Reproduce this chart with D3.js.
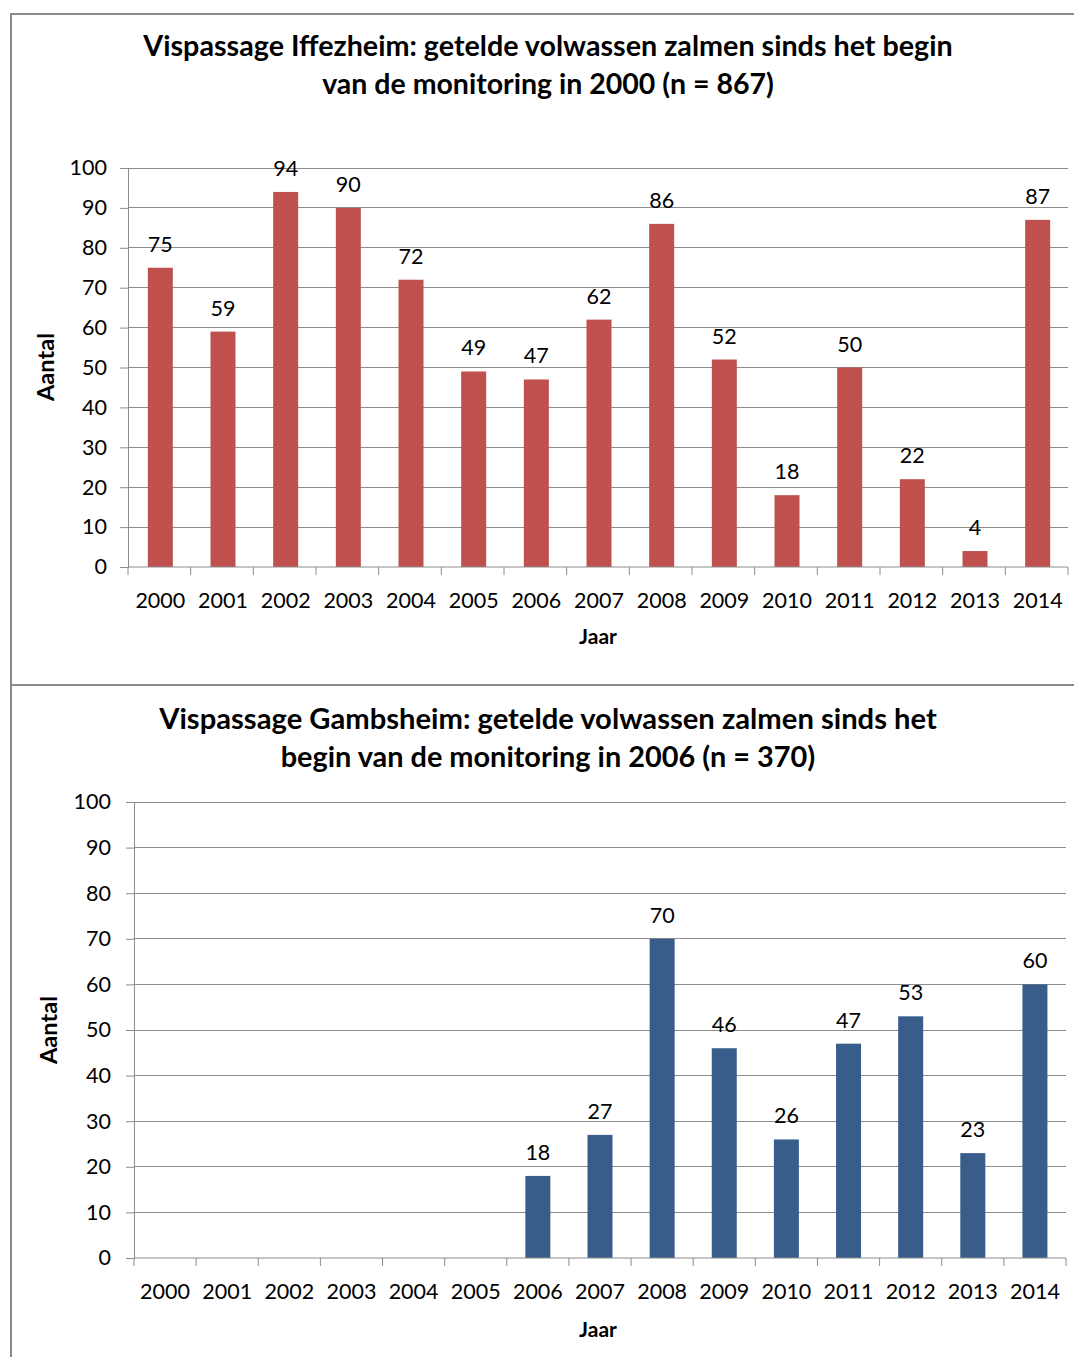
<!DOCTYPE html>
<html><head><meta charset="utf-8">
<script src="https://cdn.jsdelivr.net/npm/d3@7"></script>
<style>body{margin:0;background:#fff}svg{display:block}text{font-family:Lato,"Open Sans",sans-serif;fill:#000}</style>
</head><body>
<svg id="c" width="1074" height="1357"></svg>
<script>
const years = ["2000","2001","2002","2003","2004","2005","2006","2007","2008","2009","2010","2011","2012","2013","2014"];
const iffezheim = [75,59,94,90,72,49,47,62,86,52,18,50,22,4,87];
const gambsheim = [null,null,null,null,null,null,18,27,70,46,26,47,53,23,60];
const yTicks = [0,10,20,30,40,50,60,70,80,90,100];
const title1 = ["Vispassage Iffezheim: getelde volwassen zalmen sinds het begin","van de monitoring in 2000 (n = 867)"];
const title2 = ["Vispassage Gambsheim: getelde volwassen zalmen sinds het","begin van de monitoring in 2006 (n = 370)"];

const svg = d3.select("#c");
svg.append("line").attr("x1",11).attr("x2",1074).attr("y1",14).attr("y2",14).attr("stroke","#8a8a8a").attr("stroke-width",2);
svg.append("line").attr("x1",11).attr("x2",11).attr("y1",13).attr("y2",1357).attr("stroke","#8a8a8a").attr("stroke-width",2);
svg.append("line").attr("x1",11).attr("x2",1074).attr("y1",685).attr("y2",685).attr("stroke","#8a8a8a").attr("stroke-width",2);

function fitText(sel, target){
  const w = sel.node().getComputedTextLength();
  const fs = parseFloat(sel.attr("font-size"));
  sel.attr("font-size", fs*target/w);
}
const FS = 21.5;

function chart(o){
  const g = svg.append("g");
  const x = d3.scaleBand().domain(years).range([o.x0,o.x1]).paddingInner(0.6).paddingOuter(0.3);
  const y = d3.scaleLinear().domain([0,100]).range([o.y0,o.y1]);
  g.append("g").selectAll("line").data(yTicks.filter(d=>d>0)).join("line")
    .attr("x1",o.x0).attr("x2",o.x1).attr("y1",d=>y(d)).attr("y2",d=>y(d))
    .attr("stroke","#8c8c8c").attr("stroke-width",1).attr("shape-rendering","crispEdges");
  const ya = g.append("g").attr("transform",`translate(${o.x0},0)`)
    .call(d3.axisLeft(y).tickValues(yTicks).tickSize(8).tickPadding(o.ypad));
  ya.select(".domain").attr("stroke","#8c8c8c");
  ya.selectAll(".tick line").attr("stroke","#8c8c8c");
  ya.selectAll("text").attr("font-size",FS).attr("font-family","Lato,sans-serif").attr("fill","#000");
  const data = years.map((yr,i)=>({yr, v:o.values[i]})).filter(d=>d.v!=null);
  g.append("g").selectAll("rect").data(data).join("rect")
    .attr("x",d=>x(d.yr)+x.bandwidth()/2-12.5+o.bdx).attr("width",25)
    .attr("y",d=>y(d.v)).attr("height",d=>y(0)-y(d.v)).attr("fill",o.color);
  g.append("g").selectAll("text").data(data).join("text")
    .attr("x",d=>x(d.yr)+x.bandwidth()/2+o.bdx).attr("y",d=>y(d.v)-16)
    .attr("text-anchor","middle").attr("font-size",FS).text(d=>d.v);
  const step = (o.x1-o.x0)/years.length;
  const xa = g.append("g").attr("transform",`translate(0,${o.y0})`);
  xa.append("line").attr("x1",o.x0).attr("x2",o.x1).attr("stroke","#8c8c8c");
  xa.selectAll("line.t").data(d3.range(years.length+1)).join("line").attr("class","t")
    .attr("x1",i=>o.x0+i*step).attr("x2",i=>o.x0+i*step).attr("y1",0).attr("y2",8).attr("stroke","#8c8c8c");
  xa.selectAll("text").data(years).join("text")
    .attr("x",d=>x(d)+x.bandwidth()/2+o.bdx).attr("y",41).attr("text-anchor","middle").attr("font-size",FS).text(d=>d);
  o.title.forEach((t,i)=>{
    const tt = g.append("text").attr("x",o.tx).attr("y",o.ty+i*38).attr("text-anchor","middle")
      .attr("font-weight","bold").attr("font-size",26).text(t);
    fitText(tt, o.tw[i]);
  });
  g.append("text").attr("x",o.xlx).attr("y",o.xly).attr("text-anchor","middle").attr("font-weight","bold").attr("font-size",21).text("Jaar");
  const yl = g.append("text").attr("transform",`translate(${o.ylx},${o.yly}) rotate(-90)`).attr("text-anchor","middle").attr("font-weight","bold").attr("font-size",22).text("Aantal");
  fitText(yl, 68);
}

chart({x0:128,x1:1068,y0:567,y1:168,values:iffezheim,color:"#C0504D",ypad:13,bdx:1,
  title:title1,tx:548,ty:56,tw:[810,452],xlx:598,xly:644,ylx:54,yly:367});
chart({x0:134,x1:1066,y0:1258,y1:802,values:gambsheim,color:"#385D8A",ypad:15,bdx:0,
  title:title2,tx:548,ty:729,tw:[778,535],xlx:598,xly:1337,ylx:57,yly:1030});
</script>
</body></html>
